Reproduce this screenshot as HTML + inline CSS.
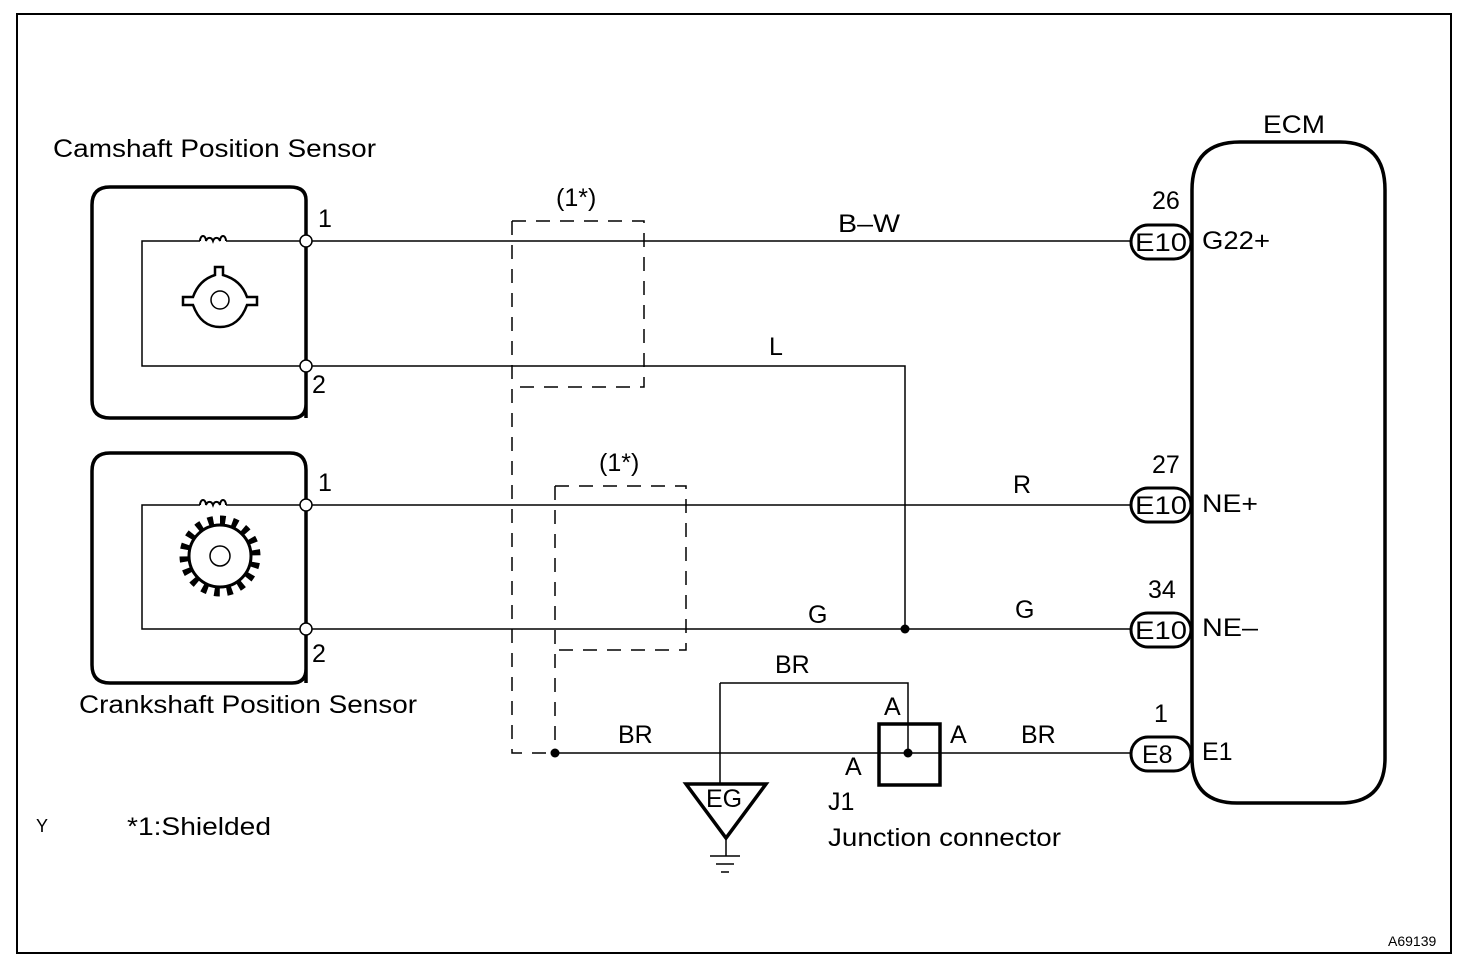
<!DOCTYPE html>
<html><head><meta charset="utf-8"><style>
html,body{margin:0;padding:0;background:#fff}
svg{display:block}
text{font-family:"Liberation Sans",Arial,sans-serif;fill:#000}
</style></head><body>
<svg width="1472" height="970" viewBox="0 0 1472 970" xmlns="http://www.w3.org/2000/svg">
<rect x="17" y="14" width="1434" height="939" fill="none" stroke="#000" stroke-width="2"/>
<g font-size="25">
<text x="53" y="157" textLength="323" lengthAdjust="spacingAndGlyphs">Camshaft Position Sensor</text>
<text x="79" y="713" textLength="338" lengthAdjust="spacingAndGlyphs">Crankshaft Position Sensor</text>
<text x="1263" y="133" textLength="62" lengthAdjust="spacingAndGlyphs">ECM</text>
<text x="36" y="832" font-size="18">Y</text>
<text x="127" y="835" textLength="144" lengthAdjust="spacingAndGlyphs">*1:Shielded</text>
<text x="828" y="846" textLength="233" lengthAdjust="spacingAndGlyphs">Junction connector</text>
<text x="828" y="810">J1</text>
<text x="1388" y="946" font-size="14">A69139</text>
<text x="318" y="227">1</text><text x="312" y="393">2</text>
<text x="318" y="491">1</text><text x="312" y="662">2</text>
<text x="556" y="206">(1*)</text><text x="599" y="471">(1*)</text>
<text x="838" y="232" textLength="62" lengthAdjust="spacingAndGlyphs">B–W</text><text x="769" y="355">L</text>
<text x="1013" y="493">R</text><text x="808" y="623">G</text><text x="1015" y="618">G</text>
<text x="775" y="673">BR</text><text x="618" y="743">BR</text><text x="1021" y="743">BR</text>
<text x="884" y="715">A</text><text x="950" y="743">A</text><text x="845" y="775">A</text>
<text x="1152" y="209">26</text><text x="1152" y="473">27</text><text x="1148" y="598">34</text><text x="1154" y="722">1</text>
<text x="1202" y="249" textLength="68" lengthAdjust="spacingAndGlyphs">G22+</text><text x="1202" y="512" textLength="56" lengthAdjust="spacingAndGlyphs">NE+</text><text x="1202" y="636" textLength="56" lengthAdjust="spacingAndGlyphs">NE–</text><text x="1202" y="760">E1</text>
</g>
<g fill="none" stroke="#000" stroke-width="3.5">
<path d="M306,418 V200 Q306,187 290,187 H110 Q92,187 92,205 V400 Q92,418 110,418 H292 Q306,418 306,404"/>
<path d="M306,683 V470 Q306,453 290,453 H110 Q92,453 92,471 V665 Q92,683 110,683 H292 Q306,683 306,669"/>
<path d="M1192,758 V190 Q1192,142 1240,142 H1340 Q1385,142 1385,190 V758 Q1385,803 1340,803 H1237 Q1192,803 1192,758"/>
<rect x="879" y="724" width="61" height="61"/>
<path d="M686,784 H766 L726,838 Z"/>
</g>
<g fill="none" stroke="#000" stroke-width="1.5">
<path d="M306,241 H226 M200,241 H142 V366 H306"/>
<path d="M306,505 H226 M200,505 H142 V629 H306"/>
<path d="M200,241 a3,5 0 0 1 6,0 a4,6 0 0 1 7,0 a4,6 0 0 1 7,0 a3,5 0 0 1 6,0" stroke-width="2"/>
<path d="M200,505 a3,5 0 0 1 6,0 a4,6 0 0 1 7,0 a4,6 0 0 1 7,0 a3,5 0 0 1 6,0" stroke-width="2"/>
<path d="M306,241 H1130 M306,366 H905 V629 M306,505 H1130 M306,629 H1130 M555,753 H1130 M720,683 H908 V753 M720,683 V784 M726,838 V856 M710,856 H740 M716,864 H734 M721,872 H729"/>
<circle cx="220" cy="300" r="9"/>
<circle cx="220" cy="556" r="10"/>
</g>
<path d="M215,275 v-8 h8 v8 q18,5 24,22 h10 v8 h-10 q-8,22 -27,22 q-19,0 -27,-22 h-10 v-8 h10 q6,-17 22,-22 z" fill="none" stroke="#000" stroke-width="2.5"/>
<circle cx="220" cy="556" r="31" fill="none" stroke="#000" stroke-width="3"/>
<circle cx="220" cy="556" r="36" fill="none" stroke="#000" stroke-width="9" stroke-dasharray="5.5,7.07" transform="rotate(-90 220 556)"/>
<g fill="none" stroke="#000" stroke-width="1.5" stroke-dasharray="14,10">
<path d="M512,221 H644 V387 H512 M512,221 V753 H555"/>
<path d="M555,486 H686 V650 H555 M555,486 V753"/>
</g>
<g fill="#fff" stroke="#000" stroke-width="1.5">
<circle cx="306" cy="241" r="6"/><circle cx="306" cy="366" r="6"/>
<circle cx="306" cy="505" r="6"/><circle cx="306" cy="629" r="6"/>
</g>
<g fill="#fff" stroke="#000" stroke-width="3">
<rect x="1131" y="225" width="60" height="34" rx="17"/>
<rect x="1131" y="488" width="60" height="34" rx="17"/>
<rect x="1131" y="613" width="60" height="34" rx="17"/>
<rect x="1131" y="737" width="60" height="34" rx="17"/>
</g>
<g font-size="25">
<text x="1135" y="251" textLength="52" lengthAdjust="spacingAndGlyphs">E10</text><text x="1135" y="514" textLength="52" lengthAdjust="spacingAndGlyphs">E10</text><text x="1135" y="639" textLength="52" lengthAdjust="spacingAndGlyphs">E10</text><text x="1142" y="763">E8</text>
<text x="706" y="807">EG</text>
</g>
<g fill="#000"><circle cx="905" cy="629" r="4.5"/><circle cx="555" cy="753" r="4.5"/><circle cx="908" cy="753" r="4.5"/></g>
</svg>
</body></html>
